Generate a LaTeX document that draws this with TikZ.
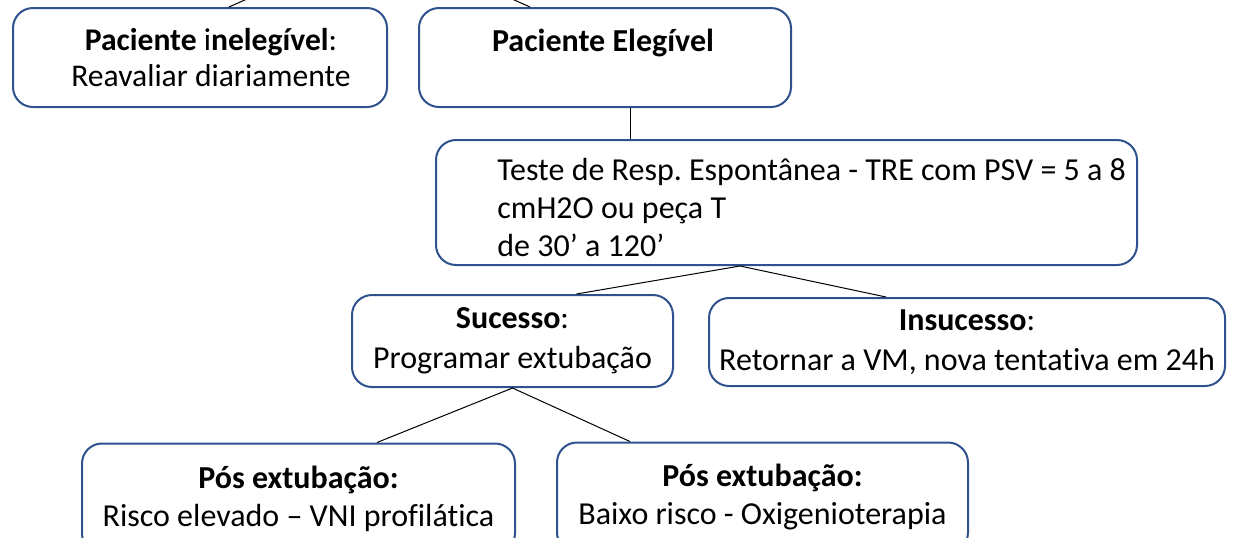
\documentclass[tikz,border=0pt]{standalone}
\usepackage{fontspec}
\setmainfont{Carlito}[Ligatures=NoCommon]
\frenchspacing
\usetikzlibrary{calc}
\definecolor{boxblue}{RGB}{47,82,143}
\tikzset{
  caixa/.style={draw=boxblue, line width=1pt, rounded corners=10pt, align=center,
    inner sep=0pt, font=\fontsize{16}{19}\selectfont},
  liga/.style={draw=black, line width=0.5pt}
}

\begin{document}
\begin{tikzpicture}[x=0.5pt, y=-0.5pt]
		%%%%% START %%%%%
		\useasboundingbox (0,0) rectangle (1233,537);
		\clip (0,0) rectangle (1233,537);
		
		\coordinate (pai) at (380,-60);
		
		\node[caixa, minimum width=187pt, minimum height=49.5pt, font=\fontsize{15.8}{18}\selectfont] (inelegivel) at (200,57.5)
			{\hspace*{11pt}\textbf{Paciente} i\textbf{nelegível}:\\ \hspace*{11pt}Reavaliar diariamente};
		\node[caixa, minimum width=186pt, minimum height=49.5pt] (elegivel) at (605,57.5) {};
		\node[inner sep=0pt, font=\fontsize{16}{19}\selectfont] (elegiveltexto) at (603,43) {\textbf{Paciente Elegível}};
		
		\node[caixa, minimum width=350.5pt, minimum height=62.5pt] (tre) at (786.5,202.5) {};
		\node[anchor=west, align=left, inner sep=0pt, font=\fontsize{16}{19}\selectfont] (tretexto) at (497,207.5)
			{Teste de Resp. Espontânea - TRE com PSV = 5 a 8\\ cmH2O ou peça T\\ de 30’ a 120’};
		
		\node[caixa, minimum width=160.5pt, minimum height=46pt, font=\fontsize{16}{20}\selectfont] (sucesso) at (512.5,341)
			{\textbf{Sucesso}:\\ Programar extubação};
		\node[caixa, minimum width=258pt, minimum height=44pt, font=\fontsize{16}{20}\selectfont] (insucesso) at (967,342)
			{\textbf{Insucesso}:\\ Retornar a VM, nova tentativa em 24h};
		
		\node[caixa, minimum width=216.5pt, minimum height=55pt] (riscoalto) at (298.5,498.5)
			{\textbf{Pós extubação:}\\ Risco elevado – VNI profilática};
		\node[caixa, minimum width=205.5pt, minimum height=55pt] (riscobaixo) at (762.5,497.5)
			{\textbf{Pós extubação:}\\ Baixo risco - Oxigenioterapia};
		
		% ligacoes
		\draw[liga] (pai) -- ([xshift=14.5pt]inelegivel.north);
		\draw[liga] (pai) -- ([xshift=-37.5pt]elegivel.north);
		\draw[liga] ([xshift=12.5pt]elegivel.south) -- ([xshift=12.5pt]elegivel.south |- tre.north);
		\draw[liga] ([xshift=32pt]sucesso.north) -- ([xshift=-23.25pt]tre.south) -- ([xshift=-40.5pt]insucesso.north);
		\draw[liga] ([xshift=39.25pt]riscoalto.north) -- (sucesso.south) -- ([xshift=-66.25pt]riscobaixo.north);
		
		%%%%% END %%%%%
	\end{tikzpicture}
\end{document}
